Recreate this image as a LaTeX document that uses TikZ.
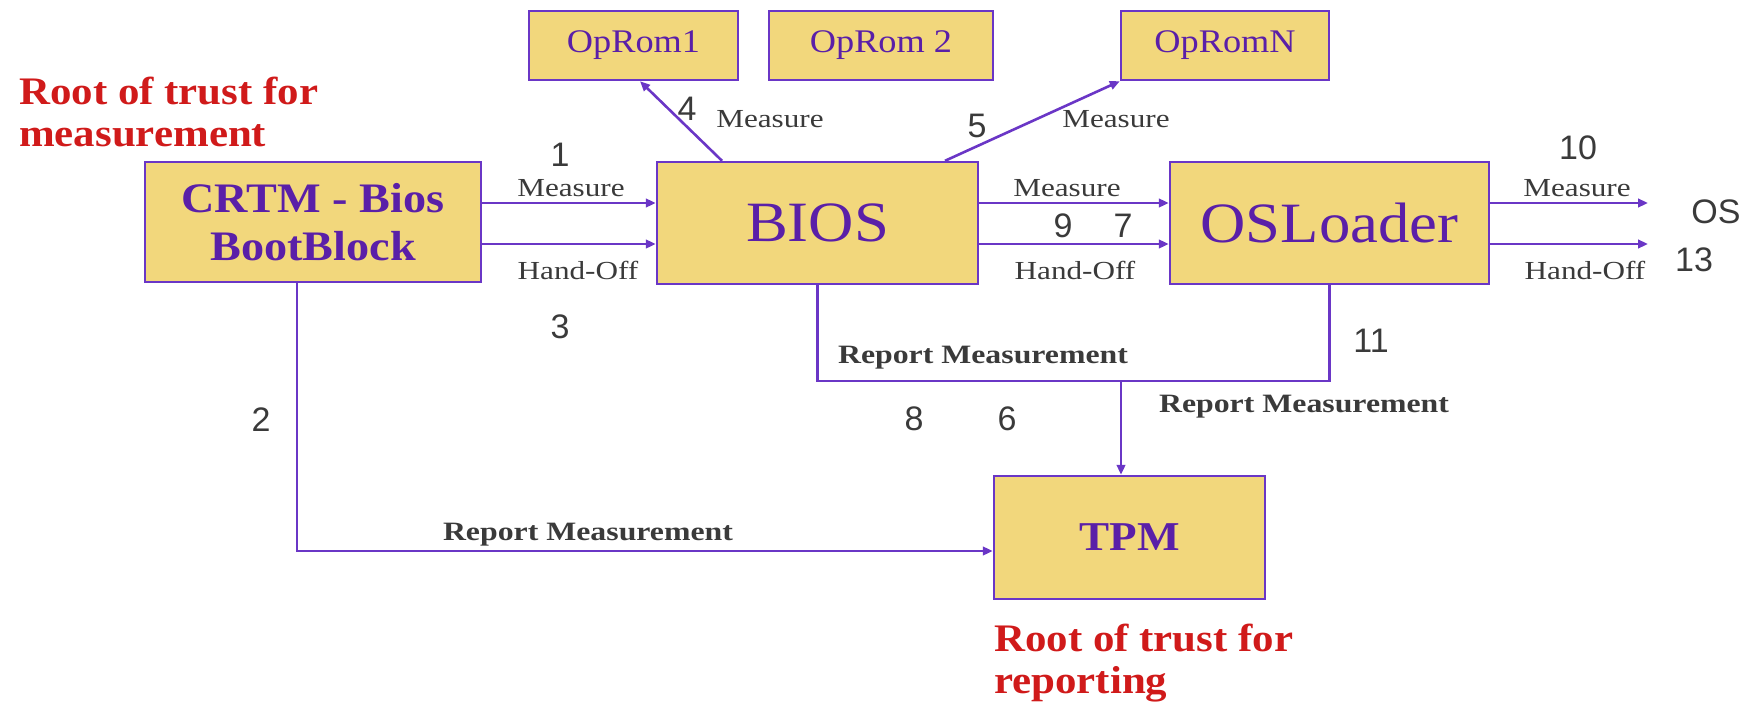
\documentclass[tikz,border=0pt]{standalone}
\usepackage{fontspec}
\setmainfont{Liberation Serif}
\newfontfamily\boxfont{Liberation Serif}[FakeStretch=1.1]
\newfontfamily\lblfont{Liberation Serif}[FakeStretch=1.2]
\newfontfamily\numfont{Liberation Sans}
\usetikzlibrary{arrows.meta}

\definecolor{boxfill}{HTML}{F2D77C}
\definecolor{wire}{HTML}{6A36C6}
\definecolor{boxtext}{HTML}{5A1FA8}
\definecolor{lbltext}{HTML}{3A3A3A}
\definecolor{rootred}{HTML}{D01A1A}

\tikzset{
  unit/.style={draw=wire, line width=2.4pt, fill=boxfill, text=boxtext,
               inner sep=0pt, align=center},
  wireline/.style={draw=wire, line width=2.6pt},
  arr/.style={wireline, -{Triangle[length=10pt,width=8.5pt]}},
  lbl/.style={text=lbltext, inner sep=0pt, font=\lblfont\fontsize{26}{28}\selectfont},
  rlbl/.style={text=lbltext, inner sep=0pt, font=\lblfont\bfseries\fontsize{26.5}{28}\selectfont},
  num/.style={text=lbltext, inner sep=0pt, font=\numfont\fontsize{34}{36}\selectfont},
  root/.style={text=rootred, inner sep=0pt, align=left,
               font=\boxfont\bfseries\fontsize{39}{42}\selectfont}
}

\begin{document}
\begin{tikzpicture}[x=1pt, y=-1pt]
\useasboundingbox (0,0) rectangle (1755,701);

% boxes
\node[unit, minimum width=336pt, minimum height=120pt,
      font=\boxfont\bfseries\fontsize{42}{48}\selectfont]
  (crtm) at (313,222) {CRTM - Bios\\BootBlock};
\node[unit, minimum width=321pt, minimum height=122pt,
      font=\boxfont\fontsize{57}{60}\selectfont]
  (bios) at (817.5,223) {BIOS};
\node[unit, minimum width=319pt, minimum height=122pt,
      font=\boxfont\fontsize{57}{60}\selectfont]
  (osl) at (1329.5,223) {OSLoader};
\node[unit, minimum width=209pt, minimum height=69pt,
      font=\boxfont\fontsize{33}{36}\selectfont]
  (rom1) at (633.5,45.5) {OpRom1};
\node[unit, minimum width=224pt, minimum height=69pt,
      font=\boxfont\fontsize{33}{36}\selectfont]
  (rom2) at (881,45.5) {OpRom 2};
\node[unit, minimum width=208pt, minimum height=69pt,
      font=\boxfont\fontsize{33}{36}\selectfont]
  (romn) at (1225,45.5) {OpRomN};
\node[unit, minimum width=271pt, minimum height=123pt,
      font=\boxfont\bfseries\fontsize{41}{44}\selectfont]
  (tpm) at (1129.5,537.5) {TPM};

% reference rows and free ends
\coordinate (rowM) at (0,203);
\coordinate (rowH) at (0,244);
\coordinate (osM) at (1648,203);
\coordinate (osH) at (1648,244);
\coordinate (bus) at (1121,381);
\coordinate (low) at (297,551);

% measure / hand-off flows
\draw[arr] (crtm.east |- rowM) -- (bios.west |- rowM);
\draw[arr] (crtm.east |- rowH) -- (bios.west |- rowH);
\draw[arr] (bios.east |- rowM) -- (osl.west |- rowM);
\draw[arr] (bios.east |- rowH) -- (osl.west |- rowH);
\draw[arr] (osl.east |- rowM) -- (osM);
\draw[arr] (osl.east |- rowH) -- (osH);
\draw[arr] ([xshift=-95.5pt]bios.north) -- ([xshift=6.5pt]rom1.south);
\draw[arr] ([xshift=127.5pt]bios.north) -- (romn.south west);

% report measurement paths
\draw[wireline] (bios.south) |- (bus) -| (osl.south);
\draw[arr] (bus) -- (bus |- tpm.north);
\draw[arr] (crtm.south -| low) |- (tpm.west |- low);

% flow labels
\node[num] (n1) at (560,155) {1};
\node[lbl] (l1) at (571,188) {Measure};
\node[lbl] (l3) at (578,270) {Hand-Off};
\node[num] (n3) at (560,327) {3};
\node[num] (n4) at (687,109) {4};
\node[lbl] (l4) at (770,119) {Measure};
\node[num] (n5) at (977,126) {5};
\node[lbl] (l5) at (1116,119) {Measure};
\node[lbl] (l9) at (1067,188) {Measure};
\node[num] (n9) at (1063,226) {9};
\node[num] (n7) at (1123,226) {7};
\node[lbl] (l7) at (1075,270) {Hand-Off};
\node[num] (n10) at (1578,148) {10};
\node[lbl] (l10) at (1577,188) {Measure};
\node[num] (os) at (1716,212) {OS};
\node[lbl] (l13) at (1585,270) {Hand-Off};
\node[num] (n13) at (1694,260) {13};
\node[rlbl] (r8) at (983,358) {Report Measurement};
\node[num] (n11) at (1371,341) {11};
\node[rlbl] (r11) at (1304,407) {Report Measurement};
\node[num] (n8) at (914,419) {8};
\node[num] (n6) at (1007,419) {6};
\node[num] (n2) at (261,420) {2};
\node[rlbl] (r2) at (588,535) {Report Measurement};

% roots of trust
\node[root, anchor=north west] (rtm) at (19,77) {Root of trust for\\measurement};
\node[root, anchor=north west] (rtr) at (994,624) {Root of trust for\\reporting};
\end{tikzpicture}
\end{document}
